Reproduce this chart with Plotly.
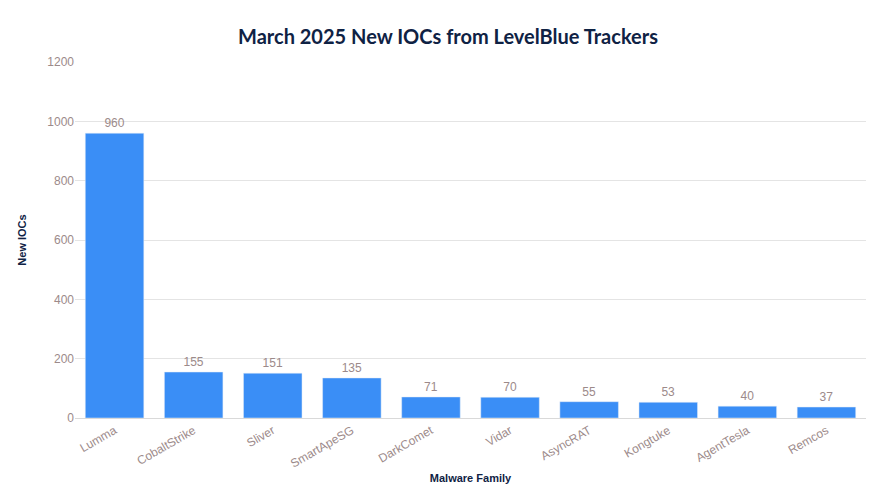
import plotly.graph_objects as go

families = ["Lumma", "CobaltStrike", "Sliver", "SmartApeSG", "DarkComet", "Vidar", "AsyncRAT", "Kongtuke", "AgentTesla", "Remcos"]
new_iocs = [960, 155, 151, 135, 71, 70, 55, 53, 40, 37]

fig = go.Figure(go.Bar(
    x=families, y=new_iocs, text=new_iocs, textposition="outside",
    marker_color="#3a8ef6", width=0.74,
    textfont=dict(color="#9c8a8a", size=12, family="Liberation Sans"),
    cliponaxis=False,
))
fig.update_layout(
    width=880, height=499,
    margin=dict(l=67, r=22, t=54, b=89),
    paper_bgcolor="white", plot_bgcolor="white",
    title=dict(text="<b>March 2025 New IOCs from LevelBlue Trackers</b>", x=0.5, y=0.955,
               font=dict(size=20, color="#0f2244", family="Lato", weight=900)),
    font=dict(family="Liberation Sans", color="#9c8a8a"),
    showlegend=False,
)
fig.update_yaxes(range=[0, 1200], dtick=200, gridcolor="#e4e4e4", zeroline=False,
                 showline=False, tickfont=dict(size=12, color="#9c8a8a"),
                 title=dict(text="<b>New IOCs</b>", font=dict(size=11, color="#0f2244"), standoff=18))
fig.update_xaxes(tickangle=-30, showline=True, linecolor="#d9d9d9",
                 tickfont=dict(size=12, color="#9c8a8a"),
                 title=dict(text="<b>Malware Family</b>", font=dict(size=11, color="#0f2244"), standoff=4))
fig.write_html("out.html")
